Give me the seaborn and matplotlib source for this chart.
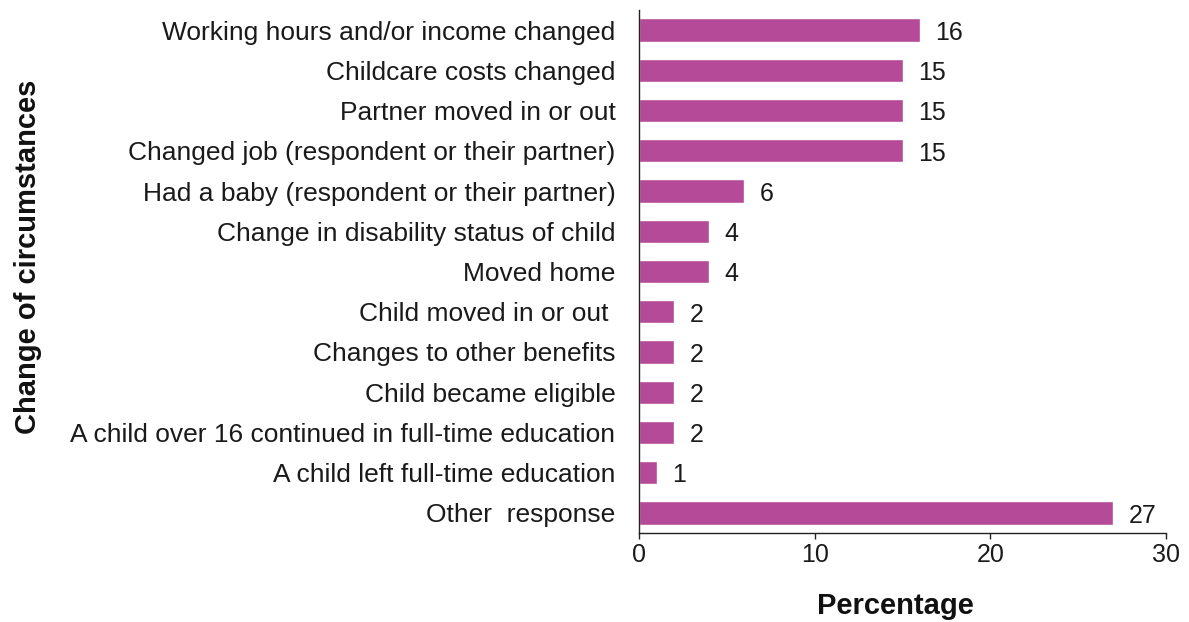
import matplotlib
matplotlib.use("Agg")
import matplotlib.pyplot as plt
import seaborn as sns
import pandas as pd

categories = [
    "Working hours and/or income changed",
    "Childcare costs changed",
    "Partner moved in or out",
    "Changed job (respondent or their partner)",
    "Had a baby (respondent or their partner)",
    "Change in disability status of child",
    "Moved home",
    "Child moved in or out ",
    "Changes to other benefits",
    "Child became eligible",
    "A child over 16 continued in full-time education",
    "A child left full-time education",
    "Other  response",
]
percentages = [16, 15, 15, 15, 6, 4, 4, 2, 2, 2, 2, 1, 27]
x_ticks = [0, 10, 20, 30]

df = pd.DataFrame({"category": categories, "percentage": percentages})

sns.set_theme(style="white")
plt.rcParams["font.family"] = ["Liberation Sans", "DejaVu Sans"]

W, H = 1189, 622
left, right, top, bottom = 639, 1166, 10, 533
fig = plt.figure(figsize=(W / 100, H / 100), dpi=100)
ax = fig.add_axes([left / W, 1 - bottom / H, (right - left) / W, (bottom - top) / H])

bar_color = "#B44A98"
sns.barplot(data=df, y="category", x="percentage", orient="h",
            color=bar_color, width=0.58, saturation=1, ax=ax)

# value labels just right of each bar end
for i, v in enumerate(percentages):
    ax.annotate(str(v), xy=(v, i), xytext=(11, -2), textcoords="offset points",
                ha="left", va="center", fontsize=18, color="#1a1a1a")

ax.set_xlim(0, 30)
ax.set_xticks(x_ticks)
ax.set_xticklabels([str(t) for t in x_ticks])
ax.set_ylim(len(categories) - 0.5, -0.5)

for side in ("top", "right"):
    ax.spines[side].set_visible(False)
for side in ("left", "bottom"):
    ax.spines[side].set_color("#222222")
    ax.spines[side].set_linewidth(1.0)

ax.tick_params(axis="y", length=0, pad=17, labelsize=19, labelcolor="#1a1a1a")
ax.tick_params(axis="x", length=4.5, width=1.0, direction="out", color="#222222",
               pad=3, labelsize=18, labelcolor="#1a1a1a", bottom=True)

ax.set_xlabel("Percentage", fontsize=21, fontweight="bold", color="#111111")
ax.xaxis.set_label_coords((895 - left) / (right - left), (bottom - 592) / (bottom - top))
ax.set_ylabel("Change of circumstances", fontsize=21, fontweight="bold",
              color="#111111", va="center")
ax.yaxis.set_label_coords((28 - left) / (right - left), (bottom - 257) / (bottom - top))

fig.savefig("out.png", dpi=100)
